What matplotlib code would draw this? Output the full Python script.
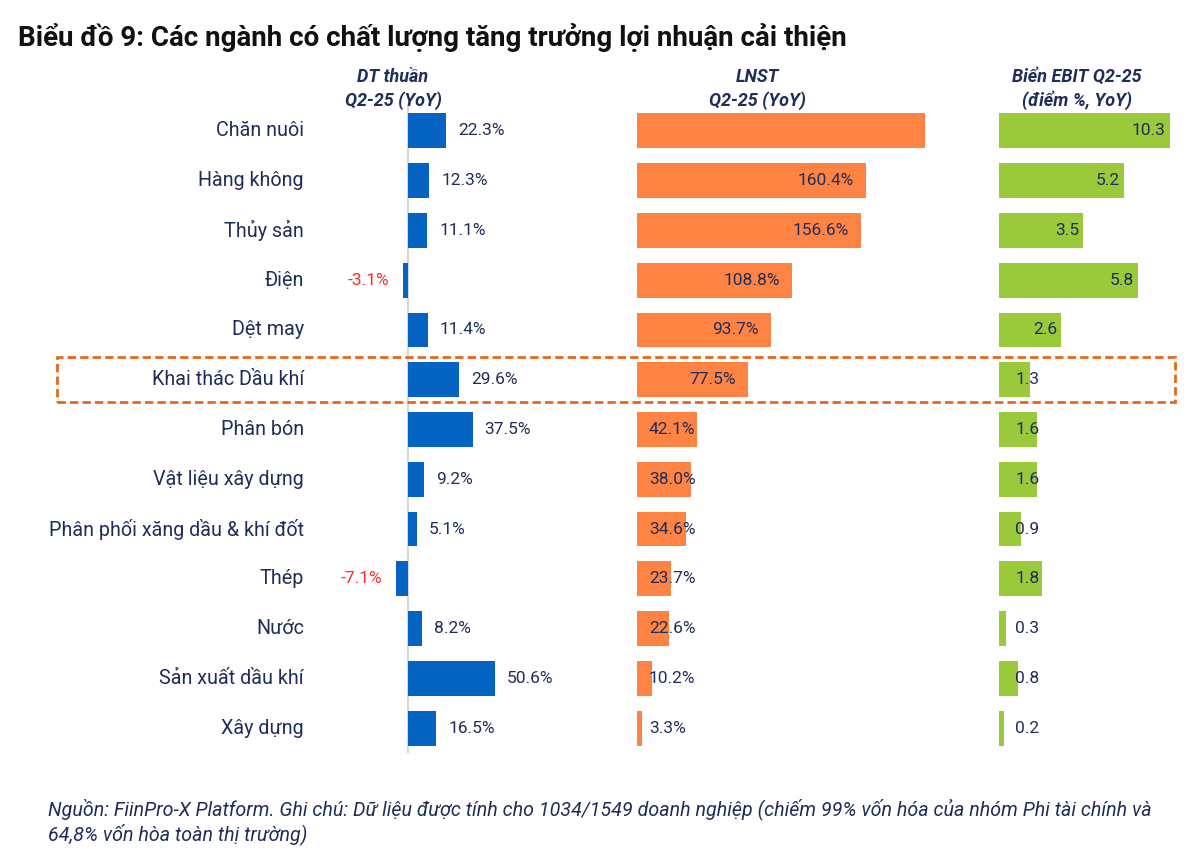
import matplotlib.pyplot as plt
import matplotlib.transforms as mtransforms
from matplotlib.patches import Rectangle

plt.rcParams['font.family'] = ['Roboto', 'DejaVu Sans']

# data
nganh = ['Chăn nuôi', 'Hàng không', 'Thủy sản', 'Điện', 'Dệt may',
         'Khai thác Dầu khí', 'Phân bón', 'Vật liệu xây dựng',
         'Phân phối xăng dầu & khí đốt', 'Thép', 'Nước',
         'Sản xuất dầu khí', 'Xây dựng']
dt_thuan = [22.3, 12.3, 11.1, -3.1, 11.4, 29.6, 37.5, 9.2, 5.1, -7.1, 8.2, 50.6, 16.5]
lnst = [201.7, 160.4, 156.6, 108.8, 93.7, 77.5, 42.1, 38.0, 34.6, 23.7, 22.6, 10.2, 3.3]
lnst_show = [False] + [True] * 12   # first label is not shown in the source
ebit = [10.3, 5.2, 3.5, 5.8, 2.6, 1.3, 1.6, 1.6, 0.9, 1.8, 0.3, 0.8, 0.2]

navy = '#1F2D5A'
blue = '#0563C1'
orange = '#FF8443'
green = '#9ACA3C'
fs_val = 12.5

W, H = 1200, 850
fig = plt.figure(figsize=(12, 8.5), dpi=100)

top_px, bot_px = 106, 753
def px_axes(x0, x1):
    return fig.add_axes([x0 / W, 1 - bot_px / H, (x1 - x0) / W, (bot_px - top_px) / H])

rows = list(range(len(nganh)))
bh = 0.7

# --- DT thuan
ax1 = px_axes(330, 560)
ax1.barh(rows, dt_thuan, height=bh, color=blue)
ax1.set_xlim(-(408 - 330) / 1.72, (560 - 408) / 1.72)
ax1.axvline(0, color='#D0D0D0', lw=1.2, zorder=0)
for r, v in zip(rows, dt_thuan):
    if v >= 0:
        ax1.text(v + 7, r, f'{v:.1f}%', va='center', ha='left', fontsize=fs_val, color=navy)
    else:
        ax1.text(v - 8, r, f'{v:.1f}%', va='center', ha='right', fontsize=fs_val, color='#FF2A2A')

# --- LNST (bar of the first row is cut at the axis end)
ax2 = px_axes(637, 925)
ax2.barh(rows, lnst, height=bh, color=orange)
ax2.set_xlim(0, 288 / 1.428)
for r, v, s in zip(rows, lnst, lnst_show):
    if not s:
        continue
    if v >= 50:
        ax2.text(v - 8.4, r, f'{v:.1f}%', va='center', ha='right', fontsize=fs_val, color=navy)
    else:
        ax2.text(8.4, r, f'{v:.1f}%', va='center', ha='left', fontsize=fs_val, color=navy)

# --- Bien EBIT (first bar cut at the axis end)
ax3 = px_axes(999, 1170)
ax3.barh(rows, ebit, height=bh, color=green)
xmax3 = 171 / 24
ax3.set_xlim(0, xmax3)
for r, v in zip(rows, ebit):
    if v >= 2.2:
        ax3.text(min(v, xmax3) - 0.17, r, f'{v:.1f}', va='center', ha='right',
                 fontsize=fs_val, color=navy)
    else:
        ax3.text(0.67, r, f'{v:.1f}', va='center', ha='left', fontsize=fs_val, color=navy)

for ax in (ax1, ax2, ax3):
    ax.set_ylim(len(nganh) - 0.5, -0.5)
    ax.axis('off')

# category names
tr = mtransforms.blended_transform_factory(fig.transFigure, ax1.transData)
for r, name in zip(rows, nganh):
    ax1.text(304 / W, r, name, transform=tr, ha='right', va='center',
             fontsize=14.2, color=navy)

# column headers
hdr = dict(ha='center', va='center', fontsize=13, color=navy,
           fontweight='bold', fontstyle='italic', linespacing=1.3)
fig.text(393 / W, 1 - 89 / H, 'DT thuần\nQ2-25 (YoY)', **hdr)
fig.text(757 / W, 1 - 89 / H, 'LNST\nQ2-25 (YoY)', **hdr)
fig.text(1077 / W, 1 - 89 / H, 'Biển EBIT Q2-25\n(điểm %, YoY)', **hdr)

# title
fig.text(18 / W, 1 - 37 / H, 'Biểu đồ 9: Các ngành có chất lượng tăng trưởng lợi nhuận cải thiện',
         ha='left', va='center', fontsize=20, fontweight='bold', color='#111111')

# highlight box
fig.patches.append(Rectangle((57 / W, 1 - 402 / H), (1175 - 57) / W, 45 / H,
                             transform=fig.transFigure, fill=False, ec='#E8671C',
                             lw=2, ls=(0, (3, 1.5))))

# source note
fig.text(48 / W, 1 - 798 / H,
         'Nguồn: FiinPro-X Platform. Ghi chú: Dữ liệu được tính cho 1034/1549 doanh nghiệp '
         '(chiếm 99% vốn hóa của nhóm Phi tài chính và\n64,8% vốn hòa toàn thị trường)',
         ha='left', va='top', fontsize=14.1, fontstyle='italic', color=navy,
         linespacing=1.2)

fig.savefig('out.png', dpi=100)
